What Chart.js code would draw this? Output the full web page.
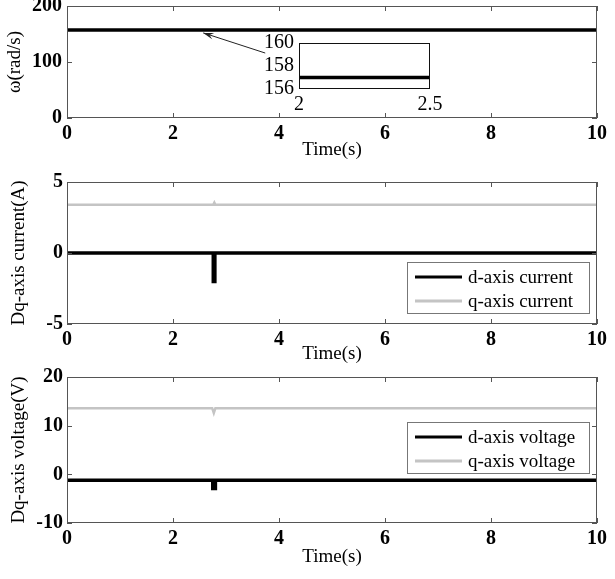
<!DOCTYPE html>
<html>
<head>
<meta charset="utf-8">
<script src="https://cdn.jsdelivr.net/npm/chart.js@4.4.1/dist/chart.umd.min.js"></script>
<style>
  html, body { margin: 0; padding: 0; background: #fff; }
  #wrap { position: relative; width: 615px; height: 579px; overflow: hidden; }
  canvas { position: absolute; }
</style>
</head>
<body>
<div id="wrap">
  <canvas id="speed" width="615" height="165" style="left:0;top:0"></canvas>
  <canvas id="current" width="615" height="200" style="left:0;top:165px"></canvas>
  <canvas id="voltage" width="615" height="214" style="left:0;top:365px"></canvas>
  <canvas id="zoom" width="210" height="90" style="left:240px;top:30px"></canvas>
</div>
<script>
// values
const timeTicks = [0, 2, 4, 6, 8, 10];

const speedTime = [0, 10];
const speedValues = [157, 157];
const speedTicks = [0, 100, 200];

const zoomTime = [2, 2.5];
const zoomValues = [157, 157];
const zoomXTicks = [2, 2.5];
const zoomYTicks = [156, 158, 160];

const dCurrentTime = [0, 2.76, 2.76, 2.79, 2.79, 10];
const dCurrent = [0, 0, -2.0, -2.0, 0, 0];
const qCurrentTime = [0, 2.76, 2.78, 2.8, 10];
const qCurrent = [3.4, 3.4, 3.55, 3.4, 3.4];
const currentTicks = [-5, 0, 5];

const dVoltageTime = [0, 2.75, 2.75, 2.8, 2.8, 10];
const dVoltage = [-1.2, -1.2, -2.9, -2.9, -1.2, -1.2];
const qVoltageTime = [0, 2.74, 2.77, 2.8, 10];
const qVoltage = [13.6, 13.6, 12.6, 13.6, 13.6];
const voltageTicks = [-10, 0, 10, 20];

// arrow from the inset to the speed line, in data units
const arrowFrom = [3.74, 116];
const arrowTo = [2.57, 152];

const SERIF = "'Liberation Serif', 'Times New Roman', serif";
const BLACK = "#000";
const GREY = "#c4c4c4";

const pts = (xs, ys) => xs.map((x, i) => ({ x: x, y: ys[i] }));

// MATLAB-like box with inward ticks
const framePlugin = {
  id: "frame",
  afterDatasetsDraw(chart, args, opts) {
    const { ctx, chartArea: a, scales } = chart;
    ctx.save();
    ctx.strokeStyle = opts.color || "#555";
    ctx.lineWidth = 1;
    ctx.strokeRect(a.left + 0.5, a.top + 0.5, a.width - 1, a.height - 1);
    if (opts.ticks !== false) {
      const len = 5;
      ctx.beginPath();
      scales.x.ticks.forEach(t => {
        const p = Math.round(scales.x.getPixelForValue(t.value)) + 0.5;
        ctx.moveTo(p, a.bottom); ctx.lineTo(p, a.bottom - len);
        ctx.moveTo(p, a.top); ctx.lineTo(p, a.top + len);
      });
      scales.y.ticks.forEach(t => {
        const p = Math.round(scales.y.getPixelForValue(t.value)) + 0.5;
        ctx.moveTo(a.left, p); ctx.lineTo(a.left + len, p);
        ctx.moveTo(a.right, p); ctx.lineTo(a.right - len, p);
      });
      ctx.stroke();
    }
    ctx.restore();
  }
};

const boxLegend = {
  id: "boxLegend",
  afterDraw(chart, args, opts) {
    if (!opts.show) return;
    const { ctx, chartArea: a } = chart;
    const w = 182, h = 51;
    const left = a.right - opts.right - w;
    const top = a.top + opts.top;
    ctx.save();
    ctx.fillStyle = "#fff";
    ctx.fillRect(left, top, w, h);
    ctx.strokeStyle = "#777";
    ctx.lineWidth = 1;
    ctx.strokeRect(left + 0.5, top + 0.5, w, h);
    ctx.font = "19px " + SERIF;
    ctx.textBaseline = "middle";
    ctx.fillStyle = BLACK;
    chart.data.datasets.forEach((ds, i) => {
      const y = top + 15 + i * 24;
      ctx.strokeStyle = ds.borderColor;
      ctx.lineWidth = 3;
      ctx.beginPath();
      ctx.moveTo(left + 8, y);
      ctx.lineTo(left + 55, y);
      ctx.stroke();
      ctx.fillText(ds.label, left + 61, y + 1);
    });
    ctx.restore();
  }
};

const arrowPlugin = {
  id: "arrow",
  afterDraw(chart, args, opts) {
    if (!opts.from) return;
    const { ctx, scales } = chart;
    const x1 = scales.x.getPixelForValue(opts.from[0]);
    const y1 = scales.y.getPixelForValue(opts.from[1]);
    const x2 = scales.x.getPixelForValue(opts.to[0]);
    const y2 = scales.y.getPixelForValue(opts.to[1]);
    const ang = Math.atan2(y2 - y1, x2 - x1);
    ctx.save();
    ctx.strokeStyle = "#222";
    ctx.fillStyle = "#222";
    ctx.lineWidth = 1;
    ctx.beginPath();
    ctx.moveTo(x1, y1);
    ctx.lineTo(x2, y2);
    ctx.stroke();
    const L = 11, W = 0.3;
    ctx.beginPath();
    ctx.moveTo(x2, y2);
    ctx.lineTo(x2 - L * Math.cos(ang - W), y2 - L * Math.sin(ang - W));
    ctx.lineTo(x2 - L * 0.6 * Math.cos(ang), y2 - L * 0.6 * Math.sin(ang));
    ctx.lineTo(x2 - L * Math.cos(ang + W), y2 - L * Math.sin(ang + W));
    ctx.closePath();
    ctx.fill();
    ctx.restore();
  }
};

function xAxis(min, max, ticks, o) {
  return {
    type: "linear", min: min, max: max,
    afterBuildTicks: s => { s.ticks = ticks.map(v => ({ value: v })); },
    afterFit: s => { s.height = o.height; s.paddingLeft = 0; s.paddingRight = 0; },
    grid: { display: false, drawTicks: false },
    border: { display: false },
    ticks: {
      font: o.tickFont, color: BLACK, padding: o.pad, maxRotation: 0, autoSkip: false,
      callback: v => String(v)
    },
    title: {
      display: !!o.title, text: o.title, color: BLACK,
      font: { family: SERIF, size: 19 },
      padding: { top: 0, bottom: o.titlePad || 0 }
    }
  };
}

function yAxis(min, max, ticks, o) {
  return {
    type: "linear", min: min, max: max,
    afterBuildTicks: s => { s.ticks = ticks.map(v => ({ value: v })); },
    afterFit: s => { s.width = o.width; s.paddingTop = 0; s.paddingBottom = 0; },
    grid: { display: false, drawTicks: false },
    border: { display: false },
    ticks: { font: o.tickFont, color: BLACK, padding: o.pad, autoSkip: false, callback: v => String(v) },
    title: {
      display: !!o.title, text: o.title, color: BLACK,
      font: { family: SERIF, size: 19 },
      padding: { top: o.titlePad || 0, bottom: 0 }
    }
  };
}

const boldTicks = { family: SERIF, size: 20, weight: "bold" };
const plainTicks = { family: SERIF, size: 20 };

function line(label, xs, ys, color, width) {
  return {
    label: label, data: pts(xs, ys), borderColor: color, backgroundColor: color,
    borderWidth: width, pointRadius: 0, tension: 0, fill: false
  };
}

function make(id, datasets, scales, padding, extra) {
  return new Chart(document.getElementById(id), {
    type: "line",
    data: { datasets: datasets },
    options: {
      responsive: false, animation: false, devicePixelRatio: 1,
      layout: { padding: padding },
      scales: scales,
      plugins: Object.assign({ legend: { display: false }, tooltip: { enabled: false } }, extra)
    },
    plugins: [framePlugin, boxLegend, arrowPlugin]
  });
}

make("speed",
  [line("speed", speedTime, speedValues, BLACK, 3.5)],
  {
    x: xAxis(0, 10, timeTicks, { height: 47, tickFont: boldTicks, pad: 4, title: "Time(s)", titlePad: 4 }),
    y: yAxis(0, 200, speedTicks, { width: 67, tickFont: boldTicks, pad: 5, title: "\u03c9(rad/s)", titlePad: 4 })
  },
  { top: 6, right: 18, left: 0, bottom: 0 },
  { arrow: { from: arrowFrom, to: arrowTo } }
);

make("zoom",
  [line("speed", zoomTime, zoomValues, BLACK, 3.5)],
  {
    x: xAxis(2, 2.5, zoomXTicks, { height: 31, tickFont: plainTicks, pad: 4 }),
    y: yAxis(156, 160, zoomYTicks, { width: 59, tickFont: plainTicks, pad: 5 })
  },
  { top: 13, right: 20, left: 0, bottom: 0 },
  { frame: { color: "#111", ticks: false } }
);

make("current",
  [line("d-axis current", dCurrentTime, dCurrent, BLACK, 3.5),
   line("q-axis current", qCurrentTime, qCurrent, GREY, 2.5)],
  {
    x: xAxis(0, 10, timeTicks, { height: 41, tickFont: boldTicks, pad: 4, title: "Time(s)", titlePad: 0 }),
    y: yAxis(-5, 5, currentTicks, { width: 67, tickFont: boldTicks, pad: 4, title: "Dq-axis current(A)", titlePad: 8 })
  },
  { top: 17, right: 18, left: 0, bottom: 0 },
  { boxLegend: { show: true, top: 80, right: 8 } }
);

make("voltage",
  [line("d-axis voltage", dVoltageTime, dVoltage, BLACK, 3.5),
   line("q-axis voltage", qVoltageTime, qVoltage, GREY, 2.5)],
  {
    x: xAxis(0, 10, timeTicks, { height: 56, tickFont: boldTicks, pad: 4, title: "Time(s)", titlePad: 11 }),
    y: yAxis(-10, 20, voltageTicks, { width: 67, tickFont: boldTicks, pad: 4, title: "Dq-axis voltage(V)", titlePad: 8 })
  },
  { top: 12, right: 18, left: 0, bottom: 0 },
  { boxLegend: { show: true, top: 45, right: 8 } }
);
</script>
</body>
</html>
